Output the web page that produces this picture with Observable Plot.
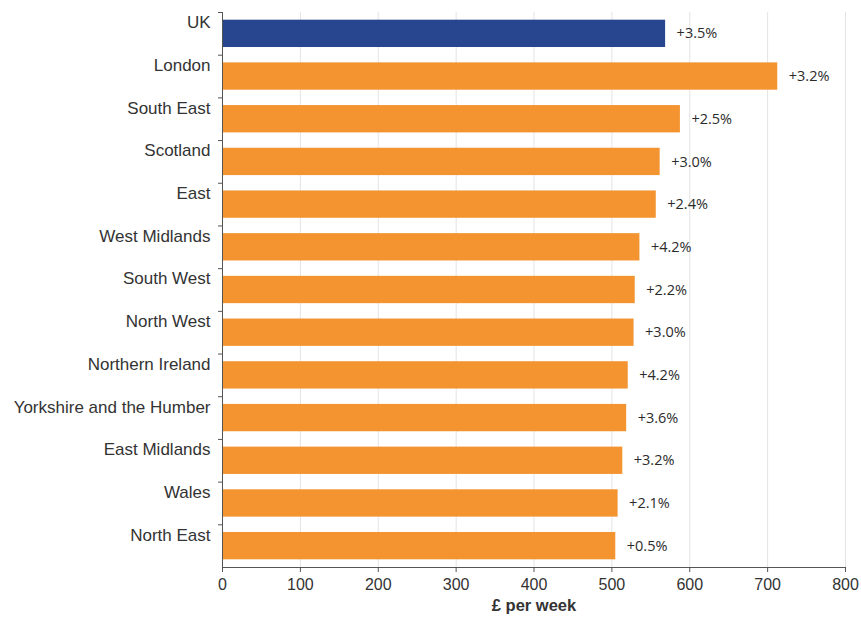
<!DOCTYPE html>
<html>
<head>
<meta charset="utf-8">
<script src="https://cdn.jsdelivr.net/npm/d3@7"></script>
<script src="https://cdn.jsdelivr.net/npm/@observablehq/plot@0.6"></script>
<style>
  html, body { margin: 0; padding: 0; background: #fff; }
</style>
</head>
<body>
<div id="chart"></div>
<script>
const regions = ["UK", "London", "South East", "Scotland", "East", "West Midlands", "South West", "North West", "Northern Ireland", "Yorkshire and the Humber", "East Midlands", "Wales", "North East"];
const weeklyPay = [569, 713, 588, 562, 557, 536, 530, 528.5, 521, 519, 514, 508, 505];
const changeLabels = ["+3.5%", "+3.2%", "+2.5%", "+3.0%", "+2.4%", "+4.2%", "+2.2%", "+3.0%", "+4.2%", "+3.6%", "+3.2%", "+2.1%", "+0.5%"];
const xTicks = [0, 100, 200, 300, 400, 500, 600, 700, 800];
const xTitle = "£ per week";

const BLUE = "#27468f";
const ORANGE = "#f39430";

const data = regions.map((r, i) => ({region: r, pay: weeklyPay[i], change: changeLabels[i]}));

const chart = Plot.plot({
  width: 861,
  height: 621,
  marginTop: 12,
  marginBottom: 54,
  marginLeft: 222,
  marginRight: 16,
  style: {fontFamily: "'Liberation Sans', Arial, sans-serif", background: "white", color: "#333", overflow: "visible"},
  x: {domain: [0, 800], ticks: xTicks, label: null},
  y: {domain: regions, paddingInner: 0.36, paddingOuter: 0.18, round: false, label: null},
  marks: [
    Plot.ruleX(xTicks.filter(d => d > 0), {stroke: "#e3e3e3", strokeWidth: 1}),
    Plot.barX(data, {x: "pay", y: "region", fill: d => d.region === "UK" ? BLUE : ORANGE}),
    Plot.text(data, {x: "pay", y: "region", text: "change", dx: 11, textAnchor: "start",
      fontFamily: "'Open Sans', sans-serif", fontSize: 14.5, fill: "#2b2b2b"}),
    Plot.ruleX([0], {stroke: "#555"}),
    Plot.frame({anchor: "bottom", stroke: "#555"}),
    Plot.axisX({ticks: xTicks, tickSize: 5, tickPadding: 6, fontSize: 16, label: null, stroke: "#555", fill: "#333"}),
    Plot.axisY({tickSize: 0, tickPadding: 12, dy: -11, fontSize: 17, label: null, fill: "#333"}),
    Plot.axisY({text: null, tickSize: 4, dy: -21.35, label: null, stroke: "#555"}),
    Plot.text([xTitle], {text: d => d, frameAnchor: "bottom", dy: 43, fontWeight: "bold", fontSize: 16.5, fill: "#333"})
  ]
});
document.getElementById("chart").appendChild(chart);
</script>
</body>
</html>
